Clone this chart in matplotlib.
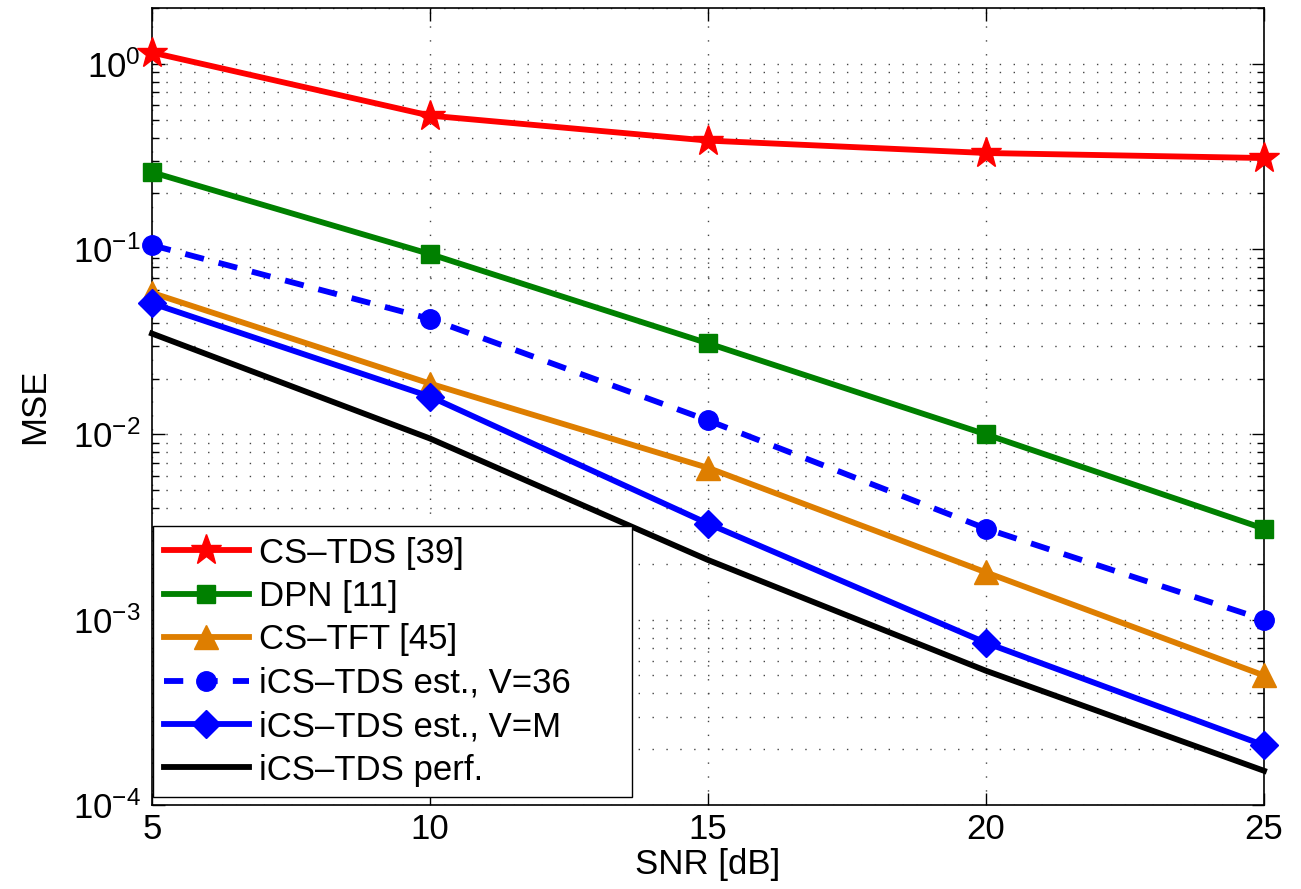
import matplotlib
matplotlib.use("Agg")
import matplotlib.pyplot as plt
from matplotlib.ticker import LogLocator, NullFormatter

plt.rcParams['font.family'] = ['Liberation Sans', 'DejaVu Sans']
plt.rcParams['mathtext.fontset'] = 'custom'
plt.rcParams['mathtext.rm'] = 'Liberation Sans'
plt.rcParams['mathtext.it'] = 'Liberation Sans:italic'
plt.rcParams['mathtext.bf'] = 'Liberation Sans:bold'

# Data
snr = [5, 10, 15, 20, 25]
cs_tds = [1.15, 0.525, 0.385, 0.33, 0.31]
dpn = [0.26, 0.094, 0.031, 0.01, 0.0031]
cs_tft = [0.058, 0.0188, 0.0066, 0.0018, 0.0005]
ics_v36 = [0.105, 0.042, 0.0119, 0.0031, 0.001]
ics_vm = [0.051, 0.016, 0.0033, 0.00075, 0.00021]
ics_perf = [0.035, 0.0095, 0.0021, 0.00053, 0.000153]

labels = ["CS\u2013TDS [39]", "DPN [11]", "CS\u2013TFT [45]",
          "iCS\u2013TDS est., V=36", "iCS\u2013TDS est., V=M", "iCS\u2013TDS perf."]

fs = 25

fig = plt.figure(figsize=(13.01, 8.89), dpi=100)
ax = fig.add_axes([152 / 1301, 1 - 805 / 889, (1264 - 152) / 1301, (805 - 8) / 889])

lw = 4.2
ax.plot(snr, cs_tds, color='#ff0000', lw=lw, marker='*', ms=23, clip_on=False, label=labels[0], zorder=5)
ax.plot(snr, dpn, color='#008000', lw=lw, marker='s', ms=13, clip_on=False, label=labels[1], zorder=5)
ax.plot(snr, cs_tft, color='#de7e00', lw=lw, marker='^', ms=17, clip_on=False, label=labels[2], zorder=5)
ax.plot(snr, ics_v36, color='#0000ff', lw=lw, ls=(0, (3.3, 2.6)), marker='o', ms=14, clip_on=False, label=labels[3], zorder=5)
ax.plot(snr, ics_vm, color='#0000ff', lw=lw, marker='D', ms=14, clip_on=False, label=labels[4], zorder=5)
ax.plot(snr, ics_perf, color='black', lw=lw, clip_on=False, label=labels[5], zorder=5)

ax.set_yscale('log')
ax.set_xlim(5, 25)
ax.set_ylim(1e-4, 2)
ax.set_xticks(snr)
ax.yaxis.set_major_locator(LogLocator(base=10, numticks=10))
ax.yaxis.set_minor_locator(LogLocator(base=10, subs=range(2, 10), numticks=20))
ax.yaxis.set_minor_formatter(NullFormatter())

ax.tick_params(which='both', direction='in', top=True, right=True, labelsize=fs, width=1)
ax.tick_params(which='major', length=9)
ax.tick_params(which='minor', length=5)
ax.tick_params(axis='x', pad=6)
ax.tick_params(axis='y', pad=8)

ax.grid(True, which='major', axis='both', ls=(0, (1, 9)), lw=1, color='#444444')
ax.grid(True, which='minor', axis='y', ls=(0, (1, 9)), lw=1, color='#444444')
for sp in ax.spines.values():
    sp.set_linewidth(1.2)

ax.set_xlabel("SNR [dB]", fontsize=fs, labelpad=1)
ax.set_ylabel("MSE", fontsize=fs, labelpad=16)

# legend box stretched to the width it has in the reference
leg = ax.legend(loc='lower left', bbox_to_anchor=(0.001, 0.01, 0.431, 0.3), mode='expand',
                fontsize=fs, frameon=True, fancybox=False,
                edgecolor='black', framealpha=1, borderaxespad=0,
                handlelength=2.45, handletextpad=0.3, labelspacing=0.3,
                borderpad=0.3)
leg.get_frame().set_linewidth(1.0)

fig.savefig("out.png", dpi=100)
